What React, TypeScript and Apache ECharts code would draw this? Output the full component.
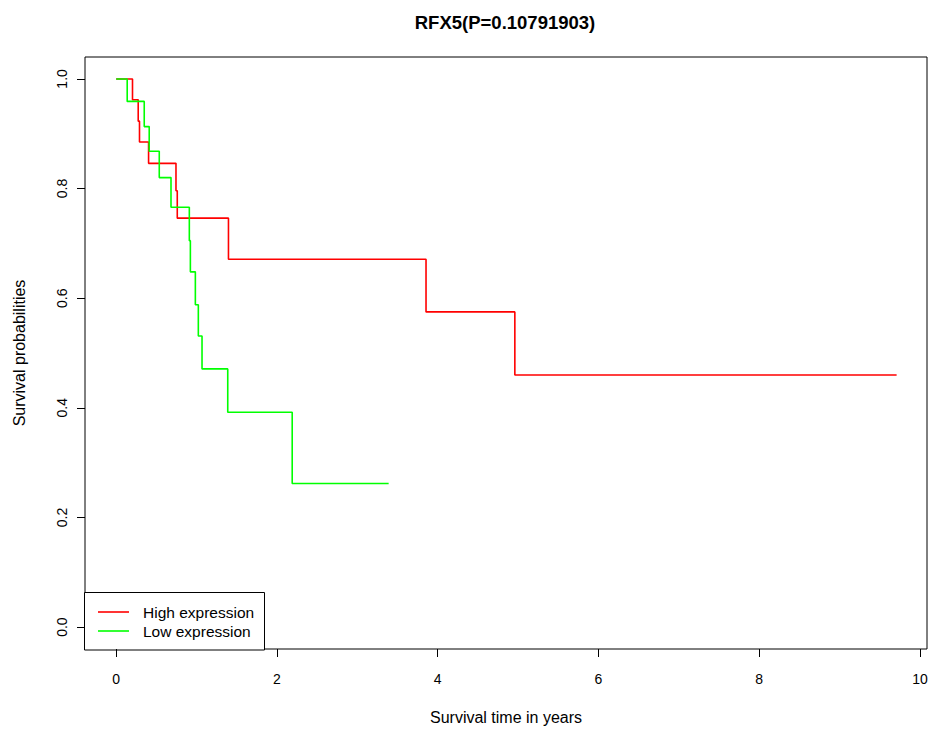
import React, { useEffect, useRef } from "react";
import * as echarts from "echarts";

const chartTitle = "RFX5(P=0.10791903)";
const xTicks = [0, 2, 4, 6, 8, 10];
const yTicks = [0, 0.2, 0.4, 0.6, 0.8, 1.0];

// Kaplan-Meier step points (time in years, survival probability)
const highTimes = [0, 0.203, 0.274, 0.29, 0.403, 0.744, 0.76, 1.397, 3.855, 4.96, 9.71];
const highSurv = [1, 0.962, 0.923, 0.885, 0.846, 0.796, 0.746, 0.671, 0.575, 0.46, 0.46];
const lowTimes = [0, 0.137, 0.349, 0.411, 0.536, 0.682, 0.91, 0.923, 0.985, 1.022, 1.068, 1.388, 2.19, 3.39];
const lowSurv = [1, 0.959, 0.913, 0.868, 0.82, 0.766, 0.705, 0.648, 0.588, 0.531, 0.471, 0.392, 0.262, 0.262];

const legendNames = ["High expression", "Low expression"];
const seriesColors = ["#FF0000", "#00FF00"];

const FONT = "'Liberation Sans', Arial, Helvetica, sans-serif";

export default function App() {
  const ref = useRef<HTMLDivElement>(null);
  useEffect(() => {
    if (!ref.current) return;
    const chart = echarts.init(ref.current, undefined, { renderer: "svg" });
    const zip = (t: number[], s: number[]) => t.map((v, i) => [v, s[i]]);
    chart.setOption({
      animation: false,
      backgroundColor: "#fff",
      textStyle: { fontFamily: FONT },
      title: {
        text: chartTitle,
        left: 500,
        top: 8,
        textAlign: "center",
        textStyle: { fontFamily: FONT, fontSize: 18.5, fontWeight: "bold", color: "#000" },
      },
      grid: {
        left: 85,
        right: 7,
        top: 57,
        bottom: 80,
        show: true,
        borderColor: "#000",
        borderWidth: 1,
        backgroundColor: "transparent",
      },
      xAxis: {
        type: "value",
        min: -0.388,
        max: 10.088,
        name: "Survival time in years",
        nameLocation: "middle",
        nameGap: 60,
        nameTextStyle: { fontFamily: FONT, fontSize: 16, color: "#000" },
        axisLine: { show: false, onZero: false },
        splitLine: { show: false },
        axisTick: { show: true, inside: false, length: 8, customValues: xTicks, lineStyle: { color: "#000" } },
        axisLabel: {
          customValues: xTicks,
          margin: 23,
          fontFamily: FONT,
          fontSize: 14,
          color: "#000",
        },
      },
      yAxis: {
        type: "value",
        min: -0.04,
        max: 1.04,
        name: "Survival probabilities",
        nameLocation: "middle",
        nameRotate: 90,
        nameGap: 58,
        nameTextStyle: { fontFamily: FONT, fontSize: 16, color: "#000" },
        axisLine: { show: false, onZero: false },
        splitLine: { show: false },
        axisTick: { show: true, inside: false, length: 8, customValues: yTicks, lineStyle: { color: "#000" } },
        axisLabel: {
          customValues: yTicks,
          rotate: 90,
          margin: 16,
          fontFamily: FONT,
          fontSize: 14,
          color: "#000",
          formatter: (v: number) => v.toFixed(1),
        },
      },
      series: [
        {
          name: legendNames[0],
          type: "line",
          step: "end",
          showSymbol: false,
          data: zip(highTimes, highSurv),
          lineStyle: { color: seriesColors[0], width: 1.6 },
          itemStyle: { color: seriesColors[0] },
          z: 2,
        },
        {
          name: legendNames[1],
          type: "line",
          step: "end",
          showSymbol: false,
          data: zip(lowTimes, lowSurv),
          lineStyle: { color: seriesColors[1], width: 1.6 },
          itemStyle: { color: seriesColors[1] },
          z: 3,
        },
      ],
      graphic: [
        {
          type: "group",
          z: 100,
          children: [
            {
              type: "rect",
              shape: { x: 84.5, y: 592.5, width: 180, height: 57.5 },
              style: { fill: "#fff", stroke: "#000", lineWidth: 1 },
            },
            {
              type: "line",
              shape: { x1: 98, y1: 612, x2: 129, y2: 612 },
              style: { stroke: seriesColors[0], lineWidth: 1.6 },
            },
            {
              type: "line",
              shape: { x1: 98, y1: 631, x2: 129, y2: 631 },
              style: { stroke: seriesColors[1], lineWidth: 1.6 },
            },
            {
              type: "text",
              x: 143,
              y: 612,
              style: { text: legendNames[0], fontFamily: FONT, fontSize: 15.5, fill: "#000", verticalAlign: "middle" },
            },
            {
              type: "text",
              x: 143,
              y: 631,
              style: { text: legendNames[1], fontFamily: FONT, fontSize: 15.5, fill: "#000", verticalAlign: "middle" },
            },
          ],
        },
      ],
    });
    return () => chart.dispose();
  }, []);
  return (
    <div
      ref={ref}
      style={{ position: "absolute", left: 0, top: 0, width: 934, height: 730 }}
    />
  );
}
